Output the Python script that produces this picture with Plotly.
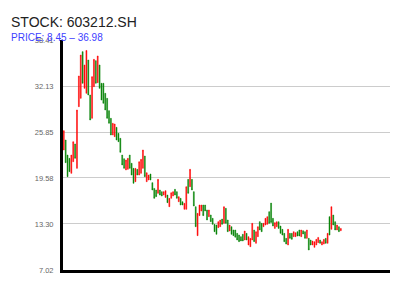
import plotly.graph_objects as go

# ---- data ----
opens = [23.40, 24.76, 22.71, 22.26, 20.21, 21.80, 24.22, 20.89, 29.31, 30.45,
         36.82, 31.81, 31.13, 35.68, 30.90, 27.72, 32.04, 35.59, 32.59, 35.00,
         32.50, 32.50, 31.13, 30.45, 28.77, 27.72, 25.44, 25.22, 26.49, 25.67,
         24.99, 22.71, 22.21, 20.67, 20.76, 22.71, 21.58, 20.89, 19.07, 20.76,
         19.98, 20.21, 20.89, 22.58, 19.07, 19.30, 20.12, 18.94, 18.16, 17.94,
         17.48, 17.94, 17.71, 17.25, 16.93, 17.25, 15.66, 16.80, 17.12, 18.03,
         17.71, 16.34, 16.80, 16.34, 15.30, 15.30, 19.39, 18.39, 19.39, 17.71,
         15.66, 11.71, 14.44, 15.07, 15.89, 15.89, 15.21, 14.30, 14.53, 14.07,
         13.25, 13.16, 12.80, 12.93, 13.98, 13.39, 15.44, 13.84, 12.34, 12.93,
         12.48, 12.48, 12.02, 11.80, 11.57, 11.89, 11.12, 12.02, 10.43, 10.20,
         11.12, 12.48, 10.66, 11.57, 13.62, 13.39, 12.93, 13.16, 13.25, 14.98,
         16.15, 14.07, 12.70, 12.93, 13.61, 13.02, 12.57, 12.02, 11.34, 10.43,
         12.02, 12.02, 11.57, 11.57, 12.25, 12.48, 11.57, 12.38, 12.25, 11.34,
         11.34, 11.11, 10.43, 10.11, 10.43, 10.75, 11.11, 10.43, 10.56, 11.34,
         10.66, 14.30, 12.57, 14.52, 13.61, 12.48, 12.93, 12.38]
closes = [26.04, 21.67, 19.76, 20.44, 22.71, 24.53, 22.26, 28.86, 33.50, 36.36,
          32.50, 35.00, 36.98, 30.90, 27.49, 33.41, 35.77, 32.50, 36.23, 31.81,
          30.22, 29.77, 28.86, 27.72, 27.04, 25.44, 27.04, 26.95, 24.76, 24.53,
          23.08, 21.35, 20.89, 22.03, 22.26, 20.89, 19.98, 18.85, 20.89, 19.98,
          21.80, 22.12, 23.40, 19.76, 20.30, 19.98, 19.30, 17.94, 16.80, 17.03,
          19.39, 17.25, 17.12, 17.71, 17.85, 16.21, 16.80, 17.57, 17.71, 17.25,
          16.80, 17.03, 15.89, 15.89, 16.12, 18.39, 17.48, 20.76, 17.94, 15.75,
          12.93, 14.75, 15.89, 15.89, 14.44, 15.07, 13.84, 15.21, 13.62, 13.25,
          12.25, 11.89, 13.62, 13.84, 13.25, 15.66, 13.39, 12.25, 13.16, 11.89,
          11.71, 11.50, 11.12, 10.89, 10.98, 10.98, 12.34, 11.12, 11.57, 11.34,
          13.39, 10.89, 12.25, 12.93, 12.48, 12.25, 13.39, 14.07, 14.30, 13.39,
          13.50, 13.02, 13.48, 13.61, 12.70, 12.02, 11.79, 10.88, 10.56, 12.57,
          11.34, 11.20, 12.25, 12.11, 11.66, 11.66, 12.48, 11.93, 11.34, 12.48,
          9.75, 10.43, 10.97, 10.88, 11.20, 11.47, 10.66, 10.88, 11.20, 10.66,
          12.02, 11.79, 15.66, 13.16, 12.48, 13.16, 12.25, 12.70]
days = list(range(len(opens)))
highs = [max(o, c) for o, c in zip(opens, closes)]
lows = [min(o, c) for o, c in zip(opens, closes)]

y_ticks = [7.02, 13.30, 19.58, 25.85, 32.13, 38.41]
y_tick_labels = ["7.02", "13.30", "19.58", "25.85", "32.13", "38.41"]
title_text = "STOCK: 603212.SH"
subtitle_text = "PRICE: 8.45 \u2013 36.98"

FONT = "Liberation Sans, Arial, Helvetica, sans-serif"

fig = go.Figure(go.Candlestick(
    x=days, open=opens, high=highs, low=lows, close=closes,
    increasing=dict(line=dict(color="#ff0000", width=0.5), fillcolor="#ff0000"),
    decreasing=dict(line=dict(color="#008000", width=0.5), fillcolor="#008000"),
    whiskerwidth=0, hoverinfo="skip",
))

fig.update_layout(
    width=400, height=300,
    margin=dict(l=63, r=10, t=40, b=30),
    paper_bgcolor="white", plot_bgcolor="white",
    showlegend=False,
    font=dict(family=FONT),
    xaxis=dict(range=[-0.42, 173.1], showline=True, linecolor="black", linewidth=3,
               showgrid=False, showticklabels=False, ticks="", zeroline=False,
               rangeslider=dict(visible=False), fixedrange=True),
    yaxis=dict(range=[y_ticks[0], y_ticks[-1]], tickmode="array",
               tickvals=y_ticks, ticktext=y_tick_labels,
               showgrid=True, gridcolor="#cccccc", gridwidth=1,
               showline=True, linecolor="black", linewidth=3,
               ticks="", zeroline=False, ticklabelstandoff=5,
               tickfont=dict(size=7.5, color="#666666", family=FONT),
               fixedrange=True),
    annotations=[
        dict(text=title_text, xref="paper", yref="paper", x=-0.165, y=1.0804,
             xanchor="left", yanchor="middle", showarrow=False,
             font=dict(size=14, color="#222222", family=FONT)),
        dict(text=subtitle_text, xref="paper", yref="paper", x=-0.165, y=1.013,
             xanchor="left", yanchor="middle", showarrow=False,
             font=dict(size=10, color="#4040ff", family=FONT)),
    ],
)

fig.write_html("out.html")
